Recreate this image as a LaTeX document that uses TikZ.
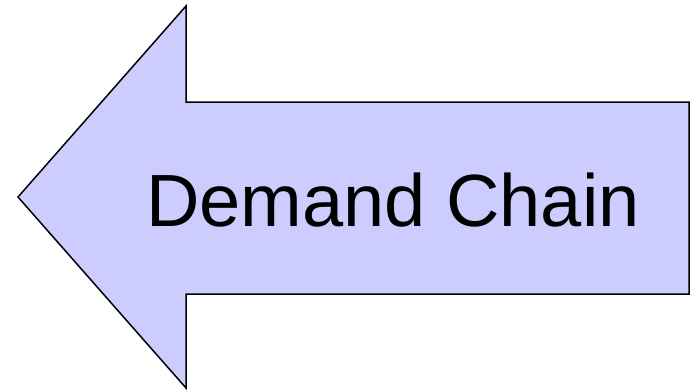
\documentclass[tikz,border=0pt]{standalone}
\usepackage{fontspec}
\setmainfont{Liberation Sans}
\definecolor{arrowfill}{RGB}{204,204,255}
\tikzset{
  bigarrow/.style={draw=black,line width=1.5pt,fill=arrowfill,line join=miter},
  arrowtext/.style={font=\fontsize{74}{88}\selectfont,anchor=base,inner sep=0pt}
}
\begin{document}
\begin{tikzpicture}[x=1pt,y=-1pt]
  \useasboundingbox (0,0) rectangle (692,391);
  % arrow outline
  \coordinate (tip) at (18,197);
  \coordinate (headtop) at (186,6);
  \coordinate (headbot) at (186,388);
  \draw[bigarrow] (tip) -- (headtop) -- (186,102) -- (689,102)
    -- (689,294) -- (186,294) -- (headbot) -- cycle;
  % label
  \node[arrowtext] (label) at (393,226) {Demand Chain};
\end{tikzpicture}
\end{document}
